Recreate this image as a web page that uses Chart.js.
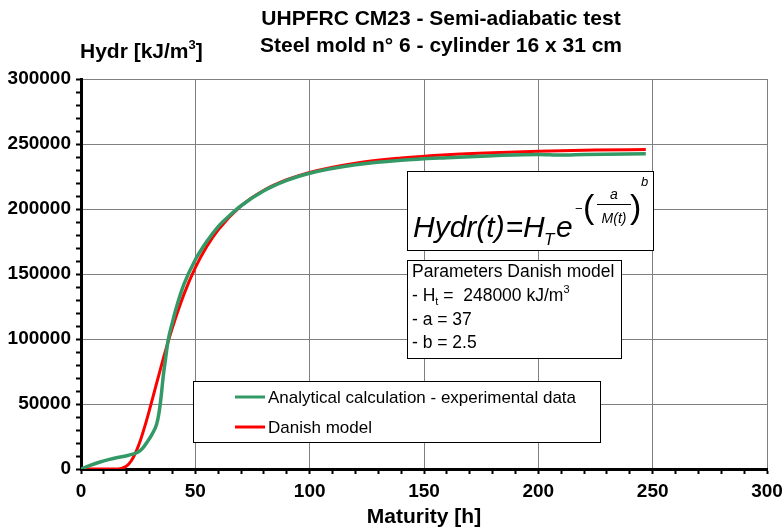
<!DOCTYPE html>
<html>
<head>
<meta charset="utf-8">
<title>UHPFRC CM23 - Semi-adiabatic test</title>
<script src="https://cdn.jsdelivr.net/npm/chart.js@4.4.1/dist/chart.umd.min.js"></script>
<style>
  html, body { margin: 0; padding: 0; background: #fff; }
  #wrap { width: 782px; height: 532px; position: relative; }
</style>
</head>
<body>
<div id="wrap"><canvas id="hydrChart"></canvas></div>
<script>
// Analytical calculation - experimental data
const expMaturity = [0, 4, 8, 12, 16, 20, 23, 25, 27, 29, 31, 33, 34, 35, 36, 37, 38, 40, 42, 45, 50, 55, 60, 65, 70, 80, 90, 100, 120, 140, 160, 180, 200, 210, 220, 247];
const expHydr = [0, 2800, 5200, 7200, 8800, 10200, 11600, 13000, 16000, 21000, 26500, 34000, 42000, 55000, 72000, 85000, 98000, 113000, 126000, 142000, 161000, 175000, 186500, 195000, 202500, 214000, 222000, 227500, 234000, 237500, 239500, 241000, 242000, 241500, 242000, 242500];

// Danish model
const danishMaturity = [0, 10, 16, 18, 20, 22, 24, 26, 28, 30, 32, 34, 36, 38, 40, 45, 50, 55, 60, 70, 80, 90, 100, 120, 140, 160, 180, 200, 225, 247];
const danishHydr = [0, 0, 70, 580, 2360, 6330, 12970, 22150, 33330, 45810, 58900, 72100, 85000, 97300, 108900, 134300, 154900, 171100, 184000, 202400, 214400, 222500, 228200, 235300, 239200, 241700, 243300, 244400, 245300, 245800];

// axis labels
const xTicks = [0, 50, 100, 150, 200, 250, 300];
const yTicks = [0, 50000, 100000, 150000, 200000, 250000, 300000];

const titleLines = ['UHPFRC CM23 - Semi-adiabatic test', 'Steel mold n\u00b0 6 - cylinder 16 x 31 cm'];
const paramLines = ['Parameters Danish model', '- a = 37', '- b = 2.5'];

const FONT = "'Liberation Sans', Arial, sans-serif";

function toPoints(xs, ys) {
    return xs.map((x, i) => ({ x: x, y: ys[i] }));
}

function drawText(ctx, s, x, y, font, align) {
    ctx.font = font;
    ctx.textAlign = align || 'left';
    ctx.fillText(s, x, y);
    return x + ctx.measureText(s).width;
}

function frame(ctx, x, y, w, h) {
    ctx.fillStyle = '#fff';
    ctx.fillRect(x, y, w, h);
    ctx.strokeStyle = '#000';
    ctx.lineWidth = 1;
    ctx.strokeRect(x + 0.5, y + 0.5, w, h);
    ctx.fillStyle = '#000';
}

// titles, legend, formula and parameter boxes
const overlay = {
    id: 'overlay',
    afterDraw(chart) {
        const ctx = chart.ctx;
        ctx.save();
        ctx.fillStyle = '#000';
        ctx.textBaseline = 'alphabetic';

        drawText(ctx, titleLines[0], 441, 25, 'bold 21px ' + FONT, 'center');
        drawText(ctx, titleLines[1], 441, 52, 'bold 21px ' + FONT, 'center');

        // y axis title
        let x = drawText(ctx, 'Hydr [kJ/m', 80, 58, 'bold 21px ' + FONT);
        x = drawText(ctx, '3', x, 49, 'bold 13px ' + FONT);
        drawText(ctx, ']', x, 58, 'bold 21px ' + FONT);

        // legend
        frame(ctx, 193, 381, 407, 61);
        chart.data.datasets.forEach((ds, i) => {
            const y = 397 + i * 30;
            ctx.strokeStyle = ds.borderColor;
            ctx.lineWidth = 3;
            ctx.beginPath();
            ctx.moveTo(235, y);
            ctx.lineTo(265, y);
            ctx.stroke();
            drawText(ctx, ds.label, 268, y + 6, '17px ' + FONT);
        });

        // formula box
        frame(ctx, 407, 171, 246, 79);
        drawText(ctx, 'Hydr(t)', 413, 237, 'italic 30px ' + FONT);
        drawText(ctx, '=', 506, 237, '30px ' + FONT);
        drawText(ctx, 'H', 523, 237, 'italic 30px ' + FONT);
        drawText(ctx, 'T', 544, 245, 'italic 17px ' + FONT);
        drawText(ctx, 'e', 556, 237, 'italic 30px ' + FONT);
        drawText(ctx, '\u2212', 575, 213, '13px ' + FONT);
        drawText(ctx, '(', 583, 218, '34px ' + FONT);
        drawText(ctx, 'a', 614, 199, 'italic 14px ' + FONT, 'center');
        ctx.strokeStyle = '#000';
        ctx.lineWidth = 1;
        ctx.beginPath();
        ctx.moveTo(597, 204.5);
        ctx.lineTo(631, 204.5);
        ctx.stroke();
        drawText(ctx, 'M(t)', 614, 223, 'italic 14px ' + FONT, 'center');
        drawText(ctx, ')', 630, 218, '34px ' + FONT);
        drawText(ctx, 'b', 641, 186, 'italic 13px ' + FONT);

        // parameters box
        frame(ctx, 407, 260, 214, 98);
        drawText(ctx, paramLines[0], 412, 277, '17.5px ' + FONT);
        x = drawText(ctx, '- H', 412, 301, '17.5px ' + FONT);
        x = drawText(ctx, 't', x, 305, '11px ' + FONT);
        x = drawText(ctx, ' =  248000 kJ/m', x, 301, '17.5px ' + FONT);
        drawText(ctx, '3', x, 293, '11px ' + FONT);
        drawText(ctx, paramLines[1], 412, 325, '17.5px ' + FONT);
        drawText(ctx, paramLines[2], 412, 348, '17.5px ' + FONT);

        ctx.restore();
    }
};

const ctx = document.getElementById('hydrChart');
new Chart(ctx, {
    type: 'line',
    data: {
        datasets: [
            {
                label: 'Analytical calculation - experimental data',
                data: toPoints(expMaturity, expHydr),
                borderColor: '#339966',
                borderWidth: 3.5,
                pointRadius: 0,
                cubicInterpolationMode: 'monotone',
                fill: false
            },
            {
                label: 'Danish model',
                data: toPoints(danishMaturity, danishHydr),
                borderColor: '#ff0000',
                borderWidth: 3,
                pointRadius: 0,
                cubicInterpolationMode: 'monotone',
                fill: false
            }
        ]
    },
    options: {
        responsive: true,
        maintainAspectRatio: false,
        animation: false,
        layout: {
            padding: { top: 79, left: 0, right: 0, bottom: 2 }
        },
        plugins: {
            legend: { display: false },
            tooltip: { enabled: false }
        },
        scales: {
            x: {
                type: 'linear',
                min: 0,
                max: 300,
                afterFit: function(scale) {
                    scale.height = 61;
                    scale.paddingRight = 15;
                },
                ticks: {
                    stepSize: 10,
                    autoSkip: false,
                    maxRotation: 0,
                    padding: 6,
                    color: '#000',
                    font: { family: FONT, size: 19, weight: 'bold' },
                    callback: function(value) {
                        return xTicks.includes(value) ? String(value) : '';
                    }
                },
                grid: {
                    color: function(c) {
                        return c.tick && xTicks.includes(c.tick.value) ? '#808080' : 'rgba(0,0,0,0)';
                    },
                    lineWidth: 1,
                    tickColor: '#000',
                    tickWidth: 2,
                    tickLength: 5
                },
                border: { color: '#000', width: 3 },
                title: {
                    display: true,
                    text: 'Maturity [h]',
                    color: '#000',
                    padding: { top: 0, bottom: 0 },
                    font: { family: FONT, size: 21, weight: 'bold' }
                }
            },
            y: {
                min: 0,
                max: 300000,
                afterFit: function(scale) { scale.width = 81; },
                ticks: {
                    stepSize: 10000,
                    autoSkip: false,
                    padding: 5,
                    color: '#000',
                    font: { family: FONT, size: 19, weight: 'bold' },
                    callback: function(value) {
                        return yTicks.includes(value) ? String(value) : '';
                    }
                },
                grid: {
                    color: function(c) {
                        return c.tick && yTicks.includes(c.tick.value) ? '#808080' : 'rgba(0,0,0,0)';
                    },
                    lineWidth: 1,
                    tickColor: '#000',
                    tickWidth: 2,
                    tickLength: 5
                },
                border: { color: '#000', width: 3 }
            }
        }
    },
    plugins: [overlay]
});
</script>
</body>
</html>
